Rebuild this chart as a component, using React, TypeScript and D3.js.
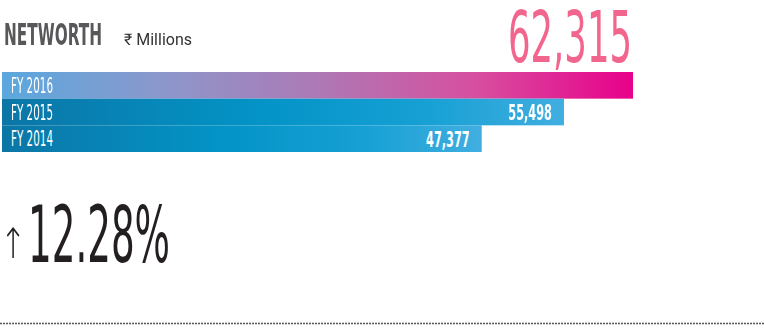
import React from "react";
import * as d3 from "d3";

const years = ["FY 2016", "FY 2015", "FY 2014"];
const values = [62315, 55498, 47377];
const title = "NETWORTH";
const unit = "₹ Millions";
const growth = "12.28%";
const headline = "62,315";

const W = 764;
const H = 330;
const fmt = d3.format(",");

export default function App() {
  const x = d3.scaleLinear().domain([0, values[0]]).range([2, 633]);
  const y = d3.scaleBand<string>().domain(years).range([72, 152]).padding(0);
  const cond = "'Liberation Sans Narrow', 'DejaVu Sans Condensed', Roboto, sans-serif";
  const sT = 0.565;
  const sH = 0.556;
  return (
    <div style={{ position: "fixed", left: 0, top: 0 }}>
      <svg width={W} height={H} style={{ display: "block" }}>
        <defs>
          <linearGradient id="g2016" x1="0" x2="1" y1="0" y2="0">
            <stop offset="0" stopColor="#5aa8de" />
            <stop offset="0.25" stopColor="#8b98cc" />
            <stop offset="0.5" stopColor="#ad79b5" />
            <stop offset="0.75" stopColor="#d74f9f" />
            <stop offset="1" stopColor="#e8008a" />
          </linearGradient>
          <linearGradient id="gBlue" x1="0" x2="1" y1="0" y2="0">
            <stop offset="0" stopColor="#0b76a6" />
            <stop offset="0.45" stopColor="#0393c6" />
            <stop offset="0.75" stopColor="#16a0d4" />
            <stop offset="1" stopColor="#41aee0" />
          </linearGradient>
        </defs>
        <text transform={`translate(4,45) scale(${sT},1)`} fontFamily={cond} fontWeight={700} fontSize={30} fill="#58585a" textLength={98 / sT} lengthAdjust="spacingAndGlyphs">{title}</text>
        <text x={124} y={45} fontFamily="Roboto, sans-serif" fontSize={16} fill="#333" textLength={68} lengthAdjust="spacingAndGlyphs">{unit}</text>
        <text transform={`translate(508,62) scale(${sH},1)`} fontFamily={cond} fontWeight={300} fontSize={71} fill="#f2668e" textLength={124 / sH} lengthAdjust="spacingAndGlyphs">{headline}</text>
        {years.map((yr, i) => {
          const y0 = y(yr)!;
          const bh = y.bandwidth();
          return (
            <g key={yr}>
              <rect x={x(0)} y={y0} width={x(values[i]) - x(0)} height={bh} fill={i === 0 ? "url(#g2016)" : "url(#gBlue)"} />
              <text x={11} y={y0 + bh / 2 + 7.5} fontFamily={cond} fontSize={21} fill="#fff" textLength={42} lengthAdjust="spacingAndGlyphs">{yr}</text>
              {i > 0 && (
                <text transform={`translate(${x(values[i]) - 12},${y0 + bh / 2 + 8}) scale(0.6,1)`} textAnchor="end" fontFamily={cond} fontWeight={700} fontSize={21} fill="#fff">{fmt(values[i])}</text>
              )}
            </g>
          );
        })}
        <text transform="translate(13,258) scale(0.75,1)" textAnchor="middle" fontFamily="'DejaVu Sans', sans-serif" fontWeight={300} fontSize={42} fill="#231f20">↑</text>
        <text x={28} y={262} fontFamily={cond} fontSize={79} fill="#231f20" textLength={142} lengthAdjust="spacingAndGlyphs">{growth}</text>
        <line x1={0} x2={W} y1={323.5} y2={323.5} stroke="#555" strokeWidth={1.5} strokeDasharray="2 1" />
      </svg>
    </div>
  );
}
